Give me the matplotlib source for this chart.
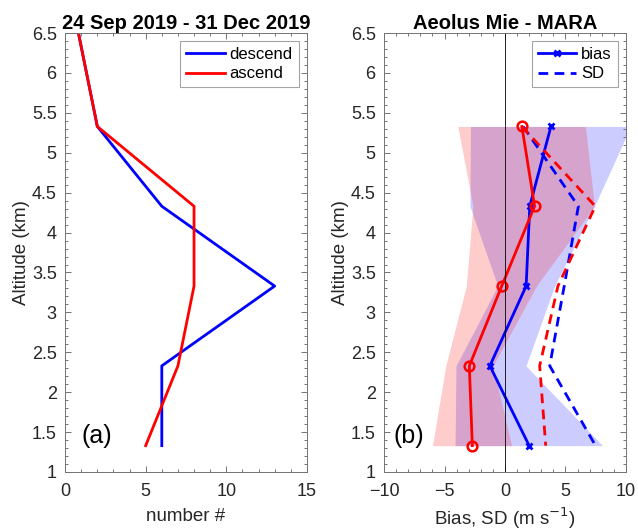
import matplotlib
matplotlib.use("Agg")
import matplotlib.pyplot as plt
from matplotlib.ticker import MultipleLocator, FormatStrFormatter

plt.rcParams['font.family'] = ['Liberation Sans', 'DejaVu Sans']

# ---------------- data ----------------
# panel (a): number of collocations
count_alt = [7.33, 6.33, 5.33, 4.33, 3.33, 2.33, 1.33]
descend_n = [0, 1, 2, 6, 13, 6, 6]
ascend_n = [0, 1, 2, 8, 8, 7, 5]

# panel (b): bias / SD profiles
alt = [5.33, 4.33, 3.33, 2.33, 1.33]
desc_bias = [3.8, 2.05, 1.75, -1.25, 2.0]
desc_sd = [1.5, 6.07, 4.9, 3.7, 7.49]
desc_lo = [-2.85, -2.9, -0.6, -4.05, -4.13]
desc_hi = [10.4, 7.4, 4.1, 1.74, 8.07]

asc_bias = [1.4, 2.45, -0.27, -2.95, -2.7]
asc_sd = [1.4, 7.47, 4.38, 2.87, 3.37]
asc_lo = [-3.9, -2.65, -3.2, -4.9, -6.0]
asc_hi = [6.65, 7.4, 2.6, -1.0, 0.55]

title_a = "24 Sep 2019 - 31 Dec 2019"
title_b = "Aeolus Mie - MARA"

# ---------------- figure ----------------
fig = plt.figure(figsize=(6.38, 5.32), dpi=100)
axc = (0.15, 0.15, 0.15)
spc = (0.45, 0.45, 0.45)

ax1 = fig.add_axes([0.102, 0.1128, 0.379, 0.825])
ax2 = fig.add_axes([0.602, 0.1128, 0.379, 0.825])

def style(ax):
    for s in ax.spines.values():
        s.set_color(spc)
        s.set_linewidth(0.7)
    ax.tick_params(which='both', direction='in', top=True, right=True,
                   color=spc, labelcolor=axc, labelsize=13, width=0.7)
    ax.tick_params(which='major', length=4)
    ax.tick_params(which='minor', length=2)
    ax.tick_params(axis='x', which='major', pad=8)
    ax.tick_params(axis='y', which='major', pad=6)
    ax.yaxis.set_major_locator(MultipleLocator(0.5))
    ax.yaxis.set_minor_locator(MultipleLocator(0.1))
    ax.yaxis.set_major_formatter(FormatStrFormatter('%g'))
    ax.set_ylim(1, 6.5)
    ax.set_ylabel("Altitude (km)", fontsize=13.5, color=axc, labelpad=1)

# ---- panel (a)
ax1.plot(descend_n, count_alt, color='blue', lw=2, label='descend')
ax1.plot(ascend_n, count_alt, color='red', lw=2, label='ascend')
ax1.set_xlim(0, 15)
ax1.xaxis.set_major_locator(MultipleLocator(5))
ax1.xaxis.set_minor_locator(MultipleLocator(1))
style(ax1)
ax1.set_xlabel("number #", fontsize=13.5, color=axc, labelpad=6)
ax1.set_title(title_a, fontsize=14.5, fontweight='bold', pad=3)
leg1 = ax1.legend(loc='upper right', fontsize=12, fancybox=False,
                  edgecolor=(0.55, 0.55, 0.55), handlelength=2.3,
                  borderaxespad=0.5, labelspacing=0.25, handletextpad=0.3,
                  borderpad=0.35)
leg1.get_frame().set_linewidth(0.8)
ax1.text(1.0, 1.45, "(a)", fontsize=18, va='center', ha='left')

# ---- panel (b)
ax2.fill_betweenx(alt, desc_lo, desc_hi, color='blue', alpha=0.2, lw=0)
ax2.plot(desc_bias, alt, color='blue', lw=2, marker='x', ms=5, mew=2, label='bias')
ax2.plot(desc_sd, alt, color='blue', lw=2, ls=(0, (3.5, 2.3)), label='SD')
ax2.fill_betweenx(alt, asc_lo, asc_hi, color='red', alpha=0.2, lw=0)
ax2.plot(asc_bias, alt, color='red', lw=2, marker='o', ms=7, mew=1.8, mfc='none')
ax2.plot(asc_sd, alt, color='red', lw=2, ls=(0, (3.5, 2.3)))
ax2.axvline(0, color='black', lw=0.6)
ax2.set_xlim(-10, 10)
ax2.xaxis.set_major_locator(MultipleLocator(5))
ax2.xaxis.set_minor_locator(MultipleLocator(1))
style(ax2)
ax2.set_xlabel("Bias, SD (m s$^{-1}$)", fontsize=13.5, color=axc, labelpad=4)
ax2.set_title(title_b, fontsize=14.5, fontweight='bold', pad=3)
leg2 = ax2.legend(loc='upper right', fontsize=12, fancybox=False,
                  edgecolor=(0.55, 0.55, 0.55), handlelength=2.3,
                  borderaxespad=0.5, labelspacing=0.25, handletextpad=0.3,
                  borderpad=0.35)
leg2.get_frame().set_linewidth(0.8)
ax2.text(-9.2, 1.45, "(b)", fontsize=18, va='center', ha='left')

fig.savefig("out.png", dpi=100)
